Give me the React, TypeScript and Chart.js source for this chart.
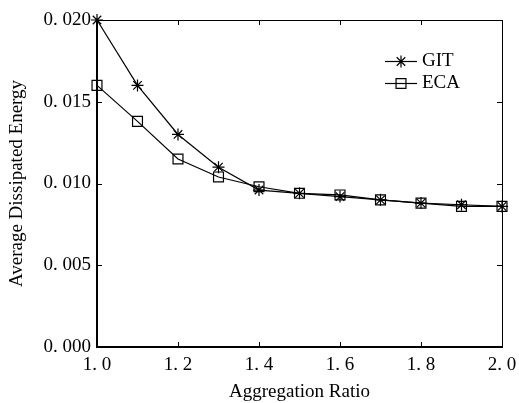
import React, { useEffect, useRef } from 'react';
import { Chart, registerables } from 'chart.js';
import { drawPoint } from 'chart.js/helpers';

Chart.register(...registerables);

const ratios = [1.0, 1.1, 1.2, 1.3, 1.4, 1.5, 1.6, 1.7, 1.8, 1.9, 2.0];
const gitValues = [0.02, 0.016, 0.013, 0.011, 0.0096, 0.0094, 0.0092, 0.009, 0.0088, 0.0087, 0.0086];
const ecaValues = [0.016, 0.0138, 0.0115, 0.0104, 0.0098, 0.0094, 0.0093, 0.009, 0.0088, 0.0086, 0.0086];
const seriesNames = ['GIT', 'ECA'];
const xTicks = [1.0, 1.2, 1.4, 1.6, 1.8, 2.0];
const yTicks = [0, 0.005, 0.01, 0.015, 0.02];
const xTitle = 'Aggregation Ratio';
const yTitle = 'Average Dissipated Energy';

const TEXT_FONT = '"Liberation Serif", "Times New Roman", serif';
const TICK_FONT = '"Liberation Serif", "Times New Roman", serif';

const fmt = (v: number, d: number) => v.toFixed(d).replace('.', '. ');

const framePlugin = {
  id: 'frame',
  beforeDatasetsDraw(chart: any) {
    const { ctx, chartArea, scales } = chart;
    const { left, right, top, bottom } = chartArea;
    const x = scales.x;
    const y = scales.y;
    const len = 5;
    ctx.save();
    ctx.strokeStyle = '#000';
    ctx.lineWidth = 1;
    ctx.beginPath();
    ctx.moveTo(left, top + 0.5);
    ctx.lineTo(right + 0.5, top + 0.5);
    ctx.lineTo(right + 0.5, bottom);
    ctx.stroke();
    ctx.lineWidth = 2;
    ctx.beginPath();
    ctx.moveTo(left, top);
    ctx.lineTo(left, bottom);
    ctx.lineTo(right + 1, bottom);
    ctx.stroke();
    ctx.lineWidth = 1;
    ctx.beginPath();
    x.ticks.forEach((t: any) => {
      const px = Math.round(x.getPixelForValue(t.value)) + 0.5;
      ctx.moveTo(px, bottom);
      ctx.lineTo(px, bottom - len);
      ctx.moveTo(px, top);
      ctx.lineTo(px, top + len);
    });
    y.ticks.forEach((t: any) => {
      const py = Math.round(y.getPixelForValue(t.value)) + 0.5;
      ctx.moveTo(left, py);
      ctx.lineTo(left + len, py);
      ctx.moveTo(right, py);
      ctx.lineTo(right - len, py);
    });
    ctx.stroke();
    ctx.restore();
  },
};

const legendPlugin = {
  id: 'customLegend',
  afterDraw(chart: any) {
    const { ctx } = chart;
    const x0 = 385;
    const x1 = 417;
    const rows = [61, 83];
    ctx.save();
    chart.data.datasets.forEach((ds: any, i: number) => {
      const yy = rows[i];
      ctx.strokeStyle = '#000';
      ctx.lineWidth = 1.2;
      ctx.beginPath();
      ctx.moveTo(x0, yy + 0.5);
      ctx.lineTo(x1, yy + 0.5);
      ctx.stroke();
      ctx.fillStyle = 'rgba(0,0,0,0)';
      drawPoint(ctx, { pointStyle: ds.pointStyle, radius: ds.pointRadius, rotation: 0, borderWidth: 1.2 } as any, (x0 + x1) / 2, yy + 0.5);
      ctx.fillStyle = '#000';
      ctx.font = `19px ${TEXT_FONT}`;
      ctx.textBaseline = 'middle';
      ctx.textAlign = 'left';
      ctx.fillText(ds.label, 422, yy);
    });
    ctx.restore();
  },
};

export default function App() {
  const ref = useRef<HTMLCanvasElement | null>(null);
  useEffect(() => {
    if (!ref.current) return;
    const chart = new Chart(ref.current, {
      type: 'line',
      data: {
        datasets: [
          {
            label: seriesNames[0],
            data: ratios.map((r, i) => ({ x: r, y: gitValues[i] })),
            borderColor: '#000',
            borderWidth: 1.2,
            pointStyle: 'star',
            pointRadius: 6,
            pointBorderColor: '#000',
            pointBackgroundColor: 'rgba(0,0,0,0)',
            pointBorderWidth: 1.2,
            tension: 0,
            clip: false as any,
          },
          {
            label: seriesNames[1],
            data: ratios.map((r, i) => ({ x: r, y: ecaValues[i] })),
            borderColor: '#000',
            borderWidth: 1.2,
            pointStyle: 'rect',
            pointRadius: 7,
            pointBorderColor: '#000',
            pointBackgroundColor: 'rgba(0,0,0,0)',
            pointBorderWidth: 1.2,
            tension: 0,
            clip: false as any,
          },
        ],
      },
      options: {
        responsive: false,
        animation: false,
        layout: { padding: { top: 20, right: 17, left: 0, bottom: 0 } },
        plugins: { legend: { display: false }, tooltip: { enabled: false } },
        scales: {
          x: {
            type: 'linear',
            min: 1,
            max: 2,
            grid: { display: false, drawTicks: false },
            border: { display: false },
            afterBuildTicks: (s: any) => {
              s.ticks = xTicks.map((v) => ({ value: v }));
            },
            afterFit: (s: any) => {
              s.height = 56;
              s.paddingLeft = 0;
              s.paddingRight = 0;
            },
            ticks: {
              color: '#000',
              font: { family: TICK_FONT, size: 19 },
              padding: 7,
              maxRotation: 0,
              autoSkip: false,
              callback: (v: any) => fmt(Number(v), 1),
            },
            title: {
              display: true,
              text: xTitle,
              color: '#000',
              font: { family: TEXT_FONT, size: 19 },
              padding: { top: 0, bottom: 0 },
            },
          },
          y: {
            type: 'linear',
            min: 0,
            max: 0.02,
            grid: { display: false, drawTicks: false },
            border: { display: false },
            afterBuildTicks: (s: any) => {
              s.ticks = yTicks.map((v) => ({ value: v }));
            },
            afterFit: (s: any) => {
              s.width = 97;
              s.paddingTop = 0;
              s.paddingBottom = 0;
            },
            ticks: {
              color: '#000',
              font: { family: TICK_FONT, size: 19 },
              padding: 6,
              autoSkip: false,
              callback: (v: any) => fmt(Number(v), 3),
            },
            title: {
              display: true,
              text: yTitle,
              color: '#000',
              font: { family: TEXT_FONT, size: 19 },
              padding: { top: 6, bottom: 0 },
            },
          },
        },
      },
      plugins: [framePlugin, legendPlugin],
    });
    return () => chart.destroy();
  }, []);
  return (
    <div style={{ position: 'fixed', left: 0, top: 0, width: 519, height: 403, background: '#fff' }}>
      <canvas ref={ref} width={519} height={403} style={{ display: 'block' }} />
    </div>
  );
}
